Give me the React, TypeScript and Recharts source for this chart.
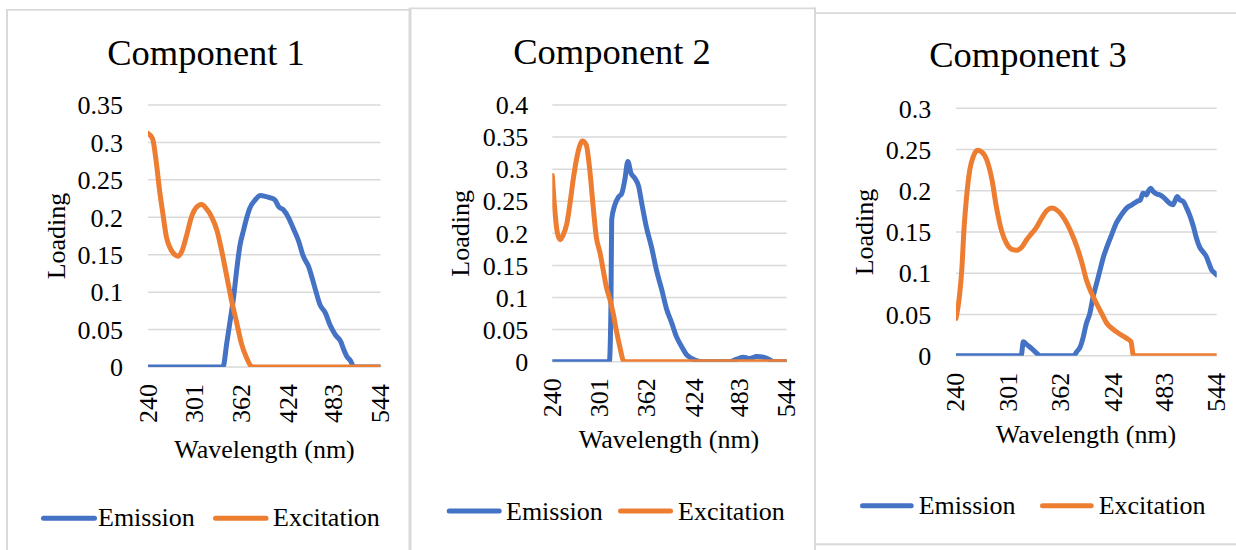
import React from 'react';
import { LineChart, Line, XAxis, YAxis, CartesianGrid } from 'recharts';

// ---------- data ----------
const xTicks = [240, 301, 362, 424, 483, 544];

const c1YTicks = [0, 0.05, 0.1, 0.15, 0.2, 0.25, 0.3, 0.35];
const c2YTicks = [0, 0.05, 0.1, 0.15, 0.2, 0.25, 0.3, 0.35, 0.4];
const c3YTicks = [0, 0.05, 0.1, 0.15, 0.2, 0.25, 0.3];

const c1ExWl = [240, 246, 251, 255, 260, 264, 268, 275, 279, 284, 290, 297, 303, 310, 316, 323, 330, 336, 343, 349, 356, 362, 369, 375, 380, 544];
const c1ExVal = [0.312, 0.305, 0.272, 0.237, 0.201, 0.174, 0.161, 0.15, 0.148, 0.154, 0.174, 0.201, 0.213, 0.217, 0.212, 0.201, 0.183, 0.157, 0.121, 0.09, 0.059, 0.032, 0.012, 0.001, 0, 0];
const c1EmWl = [240, 338, 343, 347, 352, 356, 360, 365, 369, 373, 380, 387, 393, 400, 406, 411, 417, 424, 430, 437, 443, 450, 454, 459, 465, 472, 478, 485, 492, 496, 500, 505, 509, 544];
const c1EmVal = [0, 0, 0.032, 0.059, 0.094, 0.13, 0.161, 0.183, 0.199, 0.212, 0.223, 0.229, 0.228, 0.226, 0.223, 0.214, 0.21, 0.199, 0.185, 0.168, 0.148, 0.134, 0.121, 0.103, 0.083, 0.072, 0.056, 0.043, 0.034, 0.023, 0.014, 0.008, 0, 0];

const c2ExWl = [240, 243, 246, 250, 254, 259, 263, 267, 272, 276, 279, 284, 289, 293, 297, 302, 306, 310, 315, 319, 323, 328, 332, 334, 544];
const c2ExVal = [0.29, 0.24, 0.205, 0.19, 0.197, 0.216, 0.247, 0.283, 0.319, 0.338, 0.344, 0.338, 0.294, 0.242, 0.195, 0.169, 0.143, 0.117, 0.096, 0.075, 0.049, 0.021, 0.002, 0, 0];
const c2EmWl = [240, 314, 316, 317, 321, 326, 330, 334, 338, 342, 347, 352, 356, 362, 369, 375, 382, 388, 395, 401, 408, 414, 421, 427, 434, 470, 479, 488, 496, 505, 514, 522, 527, 544];
const c2EmVal = [0, 0, 0.08, 0.221, 0.244, 0.257, 0.262, 0.283, 0.312, 0.294, 0.286, 0.273, 0.247, 0.21, 0.177, 0.143, 0.112, 0.083, 0.06, 0.039, 0.023, 0.011, 0.005, 0.0016, 0, 0, 0.004, 0.007, 0.005, 0.008, 0.007, 0.003, 0, 0];

const c3ExWl = [240, 244, 247, 249, 252, 256, 260, 265, 270, 276, 282, 287, 293, 299, 305, 311, 317, 322, 328, 334, 340, 346, 352, 357, 363, 369, 375, 381, 387, 392, 398, 404, 410, 416, 422, 427, 433, 439, 444, 447, 544];
const c3ExVal = [0.045, 0.072, 0.108, 0.148, 0.189, 0.225, 0.241, 0.249, 0.247, 0.237, 0.213, 0.181, 0.152, 0.136, 0.129, 0.128, 0.132, 0.14, 0.148, 0.156, 0.167, 0.176, 0.179, 0.177, 0.171, 0.161, 0.148, 0.132, 0.112, 0.092, 0.076, 0.063, 0.051, 0.039, 0.033, 0.029, 0.025, 0.021, 0.017, 0, 0];
const c3EmWl = [240, 316, 318.5, 322, 328, 334, 338, 377, 381, 385, 388, 392, 396, 400, 404, 408, 412, 416, 422, 427, 433, 439, 445, 451, 455, 458, 462, 464, 467, 470, 474, 478, 482, 485, 489, 493, 495, 498, 501, 505, 509, 513, 517, 520, 524, 528, 532, 535, 538, 542, 544];
const c3EmVal = [0, 0, 0.017, 0.014, 0.009, 0.003, 0, 0, 0.005, 0.011, 0.021, 0.039, 0.051, 0.072, 0.088, 0.104, 0.12, 0.132, 0.148, 0.161, 0.171, 0.179, 0.183, 0.187, 0.189, 0.197, 0.195, 0.199, 0.203, 0.199, 0.196, 0.195, 0.192, 0.189, 0.185, 0.183, 0.187, 0.193, 0.189, 0.187, 0.179, 0.169, 0.156, 0.144, 0.132, 0.126, 0.12, 0.112, 0.104, 0.1, 0.098];

const titles = ['Component 1', 'Component 2', 'Component 3'];
const seriesNames = ['Emission', 'Excitation'];
const yTitle = 'Loading';
const xTitle = 'Wavelength (nm)';

// ---------- styles ----------
const FONT = '"Liberation Serif", "Times New Roman", Times, serif';
const BLUE = '#4472C4';
const ORANGE = '#ED7D31';
const GRID = '#D9D9D9';
const BORDER = '#D9D9D9';
const LW = 5;
const W = 1236;
const H = 550;

const zip = (wl: number[], val: number[]) => wl.map((w, i) => ({ w, v: val[i] }));
const fmt = (v: number) => String(Number(v.toFixed(2)));

type Spec = {
  L: number; R: number; T: number; B: number;
  yMax: number; yTicks: number[]; tickGap: number; xGap: number;
  em: { w: number; v: number }[]; ex: { w: number; v: number }[];
};

const specs: Spec[] = [
  { L: 148, R: 380.5, T: 105, B: 367, yMax: 0.35, yTicks: c1YTicks, tickGap: 25, xGap: 17, em: zip(c1EmWl, c1EmVal), ex: zip(c1ExWl, c1ExVal) },
  { L: 552.3, R: 786.7, T: 105, B: 361.7, yMax: 0.4, yTicks: c2YTicks, tickGap: 24, xGap: 16.5, em: zip(c2EmWl, c2EmVal), ex: zip(c2ExWl, c2ExVal) },
  { L: 956, R: 1216.7, T: 108.3, B: 355.7, yMax: 0.3, yTicks: c3YTicks, tickGap: 24.7, xGap: 17, em: zip(c3EmWl, c3EmVal), ex: zip(c3ExWl, c3ExVal) },
];

function Chart({ s }: { s: Spec }) {
  const xTick = (props: any) => {
    const x = props.x;
    const y = s.B + s.xGap;
    return (
      <text x={x} y={y} transform={`rotate(-90, ${x}, ${y})`} textAnchor="end" dominantBaseline="central"
        fontSize={26} style={{ fontFamily: FONT }} fill="#000">{props.payload.value}</text>
    );
  };
  return (
    <div style={{ position: 'absolute', left: 0, top: 0, width: W, height: H }}>
      <LineChart width={W} height={H}
        margin={{ left: s.L - 40, right: W - s.R, top: s.T, bottom: H - s.B - 40 }}>
        <CartesianGrid vertical={false} stroke={GRID} strokeWidth={1.5} />
        <XAxis type="number" dataKey="w" domain={[240, 544]} ticks={xTicks} interval={0}
          axisLine={false} tickLine={false} height={40} tick={xTick} allowDataOverflow />
        <YAxis type="number" domain={[0, s.yMax]} ticks={s.yTicks} interval={0} width={40}
          axisLine={false} tickLine={false} tickSize={0} tickMargin={s.tickGap}
          tick={{ fill: '#000', fontSize: 26, fontFamily: FONT, style: { fontFamily: FONT } }} tickFormatter={fmt} allowDataOverflow />
        <Line data={s.em} dataKey="v" name="Emission" type="monotone" stroke={BLUE} strokeWidth={LW}
          dot={false} activeDot={false} isAnimationActive={false} strokeLinecap="round" strokeLinejoin="round" />
        <Line data={s.ex} dataKey="v" name="Excitation" type="monotone" stroke={ORANGE} strokeWidth={LW}
          dot={false} activeDot={false} isAnimationActive={false} strokeLinecap="round" strokeLinejoin="round" />
      </LineChart>
    </div>
  );
}

type Deco = {
  title: [number, number]; yT: [number, number]; xT: [number, number];
  legY: number; legBase: number; sw1: [number, number]; t1: number; sw2: [number, number]; t2: number;
};

const decos: Deco[] = [
  { title: [206, 64.7], yT: [65, 236], xT: [264.5, 458], legY: 518.3, legBase: 525.5, sw1: [41, 97], t1: 98, sw2: [213, 268.5], t2: 273 },
  { title: [612, 64], yT: [469.5, 233.4], xT: [669, 448], legY: 511, legBase: 519.5, sw1: [446.7, 501.7], t1: 506, sw2: [618, 673], t2: 678 },
  { title: [1028, 66.5], yT: [873, 232], xT: [1086, 443], legY: 505.8, legBase: 514, sw1: [860, 913.7], t1: 918.7, sw2: [1040, 1093.7], t2: 1098.7 },
];

function Overlay() {
  const ts = { fontFamily: FONT };
  return (
    <svg width={W} height={H} style={{ position: 'absolute', left: 0, top: 0 }}>
      {/* panel borders */}
      <rect x={6} y={9} width={2} height={560} fill={BORDER} />
      <rect x={6} y={9} width={403} height={1.7} fill={BORDER} />
      <rect x={408.5} y={8} width={3} height={560} fill={BORDER} />
      <rect x={409} y={7.5} width={407} height={1.7} fill={BORDER} />
      <rect x={814} y={7.5} width={2} height={560} fill={BORDER} />
      <rect x={815} y={12.3} width={430} height={1.7} fill={BORDER} />
      <rect x={815} y={543.3} width={430} height={2} fill={BORDER} />
      {decos.map((d, i) => (
        <g key={i} fill="#000">
          <text x={d.title[0]} y={d.title[1]} textAnchor="middle" fontSize={36.5} style={ts}>{titles[i]}</text>
          <text x={d.yT[0]} y={d.yT[1]} transform={`rotate(-90, ${d.yT[0]}, ${d.yT[1]})`} textAnchor="middle" fontSize={26} style={ts}>{yTitle}</text>
          <text x={d.xT[0]} y={d.xT[1]} textAnchor="middle" fontSize={26} style={ts}>{xTitle}</text>
          <line x1={d.sw1[0] + LW / 2} x2={d.sw1[1] - LW / 2} y1={d.legY} y2={d.legY} stroke={BLUE} strokeWidth={LW} strokeLinecap="round" />
          <text x={d.t1} y={d.legBase} fontSize={26} style={ts}>{seriesNames[0]}</text>
          <line x1={d.sw2[0] + LW / 2} x2={d.sw2[1] - LW / 2} y1={d.legY} y2={d.legY} stroke={ORANGE} strokeWidth={LW} strokeLinecap="round" />
          <text x={d.t2} y={d.legBase} fontSize={26} style={ts}>{seriesNames[1]}</text>
        </g>
      ))}
    </svg>
  );
}

export default function App() {
  return (
    <div style={{ position: 'absolute', left: 0, top: 0, width: W, height: H, overflow: 'hidden', background: '#fff' }}>
      <Overlay />
      {specs.map((s, i) => <Chart key={i} s={s} />)}
    </div>
  );
}
